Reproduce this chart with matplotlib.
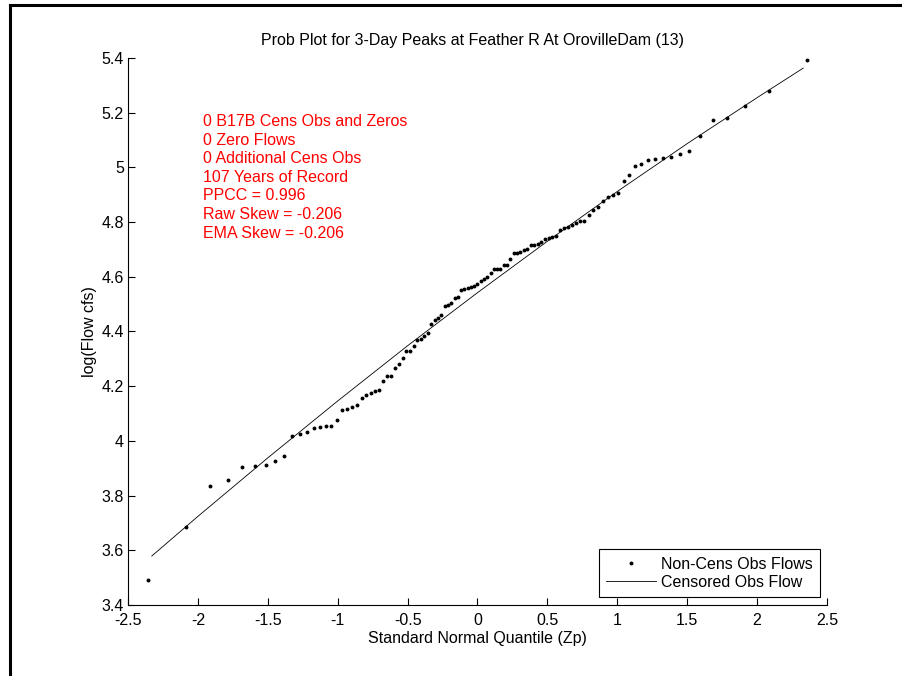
import matplotlib.pyplot as plt
from matplotlib.lines import Line2D

# standard normal quantile (plotting position) of each observation
zp = [-2.355, -2.086, -1.914, -1.786, -1.681, -1.593, -1.515, -1.446, -1.383, -1.325,
      -1.271, -1.221, -1.173, -1.128, -1.085, -1.045, -1.005, -0.967, -0.931, -0.896,
      -0.862, -0.829, -0.796, -0.765, -0.734, -0.704, -0.674, -0.645, -0.617, -0.589,
      -0.562, -0.535, -0.508, -0.482, -0.456, -0.431, -0.405, -0.380, -0.355, -0.331,
      -0.306, -0.282, -0.258, -0.234, -0.210, -0.187, -0.163, -0.140, -0.116, -0.093,
      -0.070, -0.046, -0.023, 0.000, 0.023, 0.046, 0.070, 0.093, 0.116, 0.140,
      0.163, 0.187, 0.210, 0.234, 0.258, 0.282, 0.306, 0.331, 0.355, 0.380,
      0.405, 0.431, 0.456, 0.482, 0.508, 0.535, 0.562, 0.589, 0.617, 0.645,
      0.674, 0.704, 0.734, 0.765, 0.796, 0.829, 0.862, 0.896, 0.931, 0.967,
      1.005, 1.045, 1.085, 1.128, 1.173, 1.221, 1.271, 1.325, 1.383, 1.446,
      1.515, 1.593, 1.681, 1.786, 1.914, 2.086, 2.355]

# log10 of the 3-day peak flows, sorted
log_flow = [3.490, 3.684, 3.835, 3.856, 3.903, 3.908, 3.912, 3.928, 3.945, 4.018,
            4.024, 4.031, 4.048, 4.052, 4.056, 4.056, 4.075, 4.114, 4.118, 4.124,
            4.130, 4.158, 4.168, 4.175, 4.181, 4.186, 4.220, 4.236, 4.236, 4.265,
            4.282, 4.302, 4.328, 4.329, 4.348, 4.368, 4.373, 4.385, 4.395, 4.426,
            4.441, 4.449, 4.461, 4.493, 4.497, 4.504, 4.521, 4.526, 4.551, 4.554,
            4.559, 4.563, 4.567, 4.573, 4.585, 4.592, 4.600, 4.613, 4.627, 4.627,
            4.627, 4.643, 4.643, 4.666, 4.687, 4.688, 4.690, 4.697, 4.703, 4.715,
            4.715, 4.719, 4.726, 4.737, 4.741, 4.744, 4.750, 4.772, 4.780, 4.783,
            4.788, 4.796, 4.804, 4.805, 4.826, 4.843, 4.856, 4.878, 4.892, 4.900,
            4.908, 4.950, 4.971, 5.004, 5.012, 5.026, 5.029, 5.033, 5.037, 5.048,
            5.060, 5.114, 5.172, 5.182, 5.224, 5.279, 5.393]

# fitted curve
fit_z = [-2.33, -2.0, -1.5, -1.0, -0.5, 0.0, 0.5, 1.0, 1.5, 2.0, 2.33]
fit_q = [3.579, 3.724, 3.938, 4.146, 4.348, 4.542, 4.730, 4.912, 5.087, 5.255, 5.363]

info_lines = ["0 B17B Cens Obs and Zeros", "0 Zero Flows", "0 Additional Cens Obs",
              "107 Years of Record", "PPCC = 0.996", "Raw Skew = -0.206",
              "EMA Skew = -0.206"]

plt.rcParams['font.family'] = ['Liberation Sans', 'DejaVu Sans']
FS = 11.5

W, H = 903, 676
fig = plt.figure(figsize=(W / 100, H / 100), dpi=100)
ax = fig.add_axes([128 / W, 1 - 605 / H, (827 - 128) / W, (605 - 58) / H])

ax.plot(zp, log_flow, linestyle='none', marker='o', markersize=2.8,
        color='k', markeredgewidth=0, label='Non-Cens Obs Flows')
ax.plot(fit_z, fit_q, color='k', linewidth=0.6, label='Censored Obs Flow')

ax.set_xlim(-2.5, 2.5)
ax.set_ylim(3.4, 5.4)
ax.set_xticks([-2.5, -2, -1.5, -1, -0.5, 0, 0.5, 1, 1.5, 2, 2.5])
ax.set_xticklabels(['-2.5', '-2', '-1.5', '-1', '-0.5', '0', '0.5', '1', '1.5', '2', '2.5'])
ax.set_yticks([3.4, 3.6, 3.8, 4, 4.2, 4.4, 4.6, 4.8, 5, 5.2, 5.4])
ax.set_yticklabels(['3.4', '3.6', '3.8', '4', '4.2', '4.4', '4.6', '4.8', '5', '5.2', '5.4'])
ax.tick_params(direction='in', length=5, width=0.8, labelsize=FS)
ax.tick_params(axis='x', pad=6)
ax.tick_params(axis='y', pad=3)
ax.spines['top'].set_visible(False)
ax.spines['right'].set_visible(False)
for s in ['left', 'bottom']:
    ax.spines[s].set_linewidth(0.8)

ax.set_title('Prob Plot for 3-Day Peaks at Feather R At OrovilleDam (13)', fontsize=FS,
             pad=9, x=0.493)
ax.set_xlabel('Standard Normal Quantile (Zp)', fontsize=FS, labelpad=2)
ax.set_ylabel('log(Flow cfs)', fontsize=FS, labelpad=3)

ax.text(203 / W, 1 - 114 / H, '\n'.join(info_lines), transform=fig.transFigure,
        color='red', fontsize=FS, va='top', ha='left', linespacing=1.3)

leg = ax.legend(loc='lower right', bbox_to_anchor=(820 / W, 1 - 597 / H),
                bbox_transform=fig.transFigure, fontsize=FS, fancybox=False,
                framealpha=1, edgecolor='k', borderpad=0.45, handlelength=3.13,
                handletextpad=0.3, labelspacing=0.2, borderaxespad=0)
leg.get_frame().set_linewidth(0.8)

# screenshot border lines
fig.add_artist(Line2D([10 / W, 1], [1 - 5 / H, 1 - 5 / H], color='k', linewidth=2.2,
                      transform=fig.transFigure))
fig.add_artist(Line2D([10 / W, 10 / W], [0, 1 - 5 / H], color='k', linewidth=2.2,
                      transform=fig.transFigure))

fig.savefig('out.png', dpi=100)
